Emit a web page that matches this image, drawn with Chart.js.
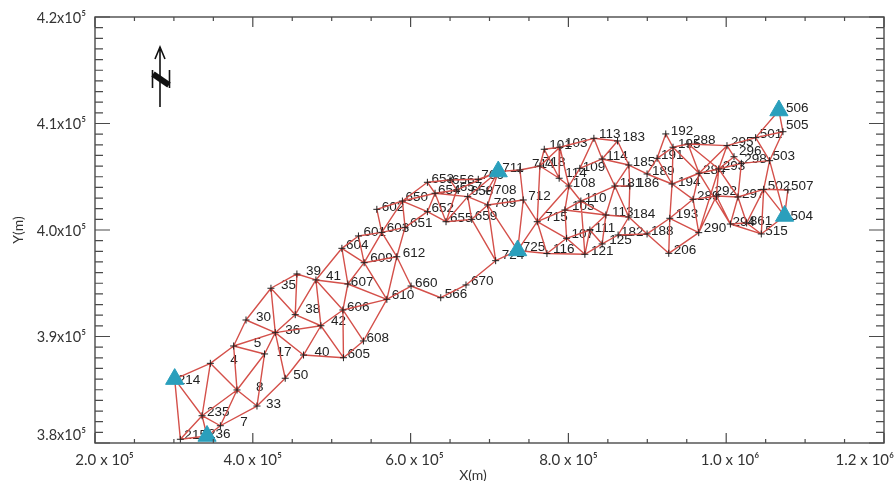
<!DOCTYPE html>
<html lang="en">
<head>
    <meta charset="UTF-8">
    <title>Mesh network</title>
    <style>
        body { margin: 0; background: #fff; }
        canvas { display: block; }
    </style>
</head>
<body>
    <canvas id="myChart" width="896" height="481"></canvas>

    <script src="https://cdn.jsdelivr.net/npm/chart.js"></script>

    <script>
    const xTickValues = [200000, 400000, 600000, 800000, 1000000, 1200000];
    const xTickLabels = ['     2.0 x 10⁵', '4.0 x 10⁵', '  6.0 x 10⁵', '8.0 x 10⁵', '  1.0 x 10⁶', '1.2 x 10⁶          '];
    const yTickValues = [380000, 390000, 400000, 410000, 420000];
    const yTickLabels = [['3.8x10⁵', ''], '3.9x10⁵', '4.0x10⁵', '4.1x10⁵', '4.2x10⁵'];

    // node numbers and coordinates in metres
    const nodeIds = [214, 215, 236, 235, 7, 33, 8, 4, 5, 17, 50, 36, 30, 35, 38, 39, 41, 42, 40, 605,
        608, 606, 607, 610, 604, 609, 612, 660, 566, 670, 724, 725, 602, 601, 603, 651, 650, 652, 653, 654,
        656, 655, 659, 658, 657, 766, 709, 708, 711, 714, 712, 715, 116, 718, 101, 103, 104, 108, 109, 113,
        183, 114, 185, 181, 186, 110, 105, 107, 111, 112, 184, 182, 125, 121, 188, 206, 193, 194, 189, 191,
        192, 195, 288, 295, 501, 505, 506, 503, 507, 502, 504, 515, 861, 294, 297, 292, 289, 290, 284, 293,
        296, 298];
    const nodeX = [301000, 308200, 342000, 335700, 358900, 405300, 380000, 346200, 375700, 414900, 441100, 428500, 391400, 423000, 453800, 455900, 480000, 486300, 464300, 514900,
        540200, 514200, 520500, 569900, 512900, 541100, 582500, 600600, 638200, 670200, 707800, 735700, 557200, 533900, 563500, 593000, 589600, 621300, 621300, 631000,
        650000, 644900, 677500, 672400, 658500, 685800, 697700, 696800, 711100, 738600, 742800, 760500, 772800, 763900, 769400, 789200, 788300, 800600, 814500, 832300,
        862300, 842800, 876600, 858800, 877800, 815800, 795600, 797700, 827200, 847500, 876600, 863000, 842800, 820900, 899700, 927200, 928500, 931400, 899700, 912400,
        923400, 932600, 951600, 1001000, 1037300, 1071900, 1066800, 1055000, 1078200, 1047500, 1074000, 1044500, 1025900, 1005300, 1014900, 987600, 958000, 965200, 965600, 990500,
        1009900, 1019200];
    const nodeY = [386000, 380350, 380660, 382560, 381620, 383470, 384980, 387480, 389110, 388360, 386080, 390360, 391550, 394530, 392050, 395870, 395310, 391010, 388260, 388010,
        389580, 392490, 394930, 393490, 398280, 396930, 397490, 394740, 393640, 394840, 397120, 398080, 401940, 399440, 399780, 400250, 402720, 401720, 404480, 403450,
        404700, 400780, 401000, 403130, 403760, 404760, 402350, 403660, 405490, 405630, 402820, 400780, 397790, 406010, 407580, 407770, 404860, 404130, 405790, 408610,
        408360, 406670, 406100, 404130, 404130, 402720, 401880, 399220, 400000, 401410, 401220, 399530, 398690, 397720, 399630, 397810, 401100, 404320, 405260, 406730,
        409020, 407770, 408080, 407920, 408670, 409230, 411220, 406510, 403760, 403820, 401320, 399630, 400660, 400560, 403100, 403190, 402880, 399750, 405330, 405730,
        406880, 406260];

    // control points, drawn as triangles
    const stations = [214, 236, 725, 711, 506, 504];

    const edges = [
        [214, 215], [214, 235], [214, 4], [215, 236], [215, 235], [235, 236], [235, 4], [235, 8], [235, 7], [236, 7],
        [7, 8], [7, 33], [4, 5], [4, 8], [5, 8], [5, 17], [5, 36], [5, 30], [8, 17], [8, 33],
        [17, 33], [17, 36], [33, 50], [50, 40], [50, 36], [36, 40], [36, 30], [36, 35], [36, 38], [36, 42],
        [30, 35], [35, 39], [35, 38], [38, 39], [38, 41], [38, 42], [39, 41], [41, 42], [41, 607], [41, 606],
        [42, 606], [42, 605], [42, 40], [40, 605], [606, 605], [606, 608], [605, 608], [608, 610], [606, 610], [606, 607],
        [607, 610], [607, 604], [607, 609], [41, 604], [604, 609], [604, 601], [601, 603], [601, 609], [609, 612], [609, 610],
        [612, 610], [603, 602], [603, 609], [603, 612], [612, 660], [651, 650], [651, 612], [650, 602], [650, 603], [651, 603],
        [650, 652], [652, 651], [650, 653], [650, 654], [653, 654], [654, 652], [652, 655], [654, 655], [653, 656], [654, 657],
        [657, 655], [658, 655], [658, 659], [658, 709], [659, 709], [659, 655], [659, 724], [709, 724], [709, 725], [708, 711],
        [658, 711], [657, 711], [656, 766], [766, 711], [654, 658], [656, 657], [709, 712], [709, 711], [712, 714], [712, 725],
        [712, 715], [711, 714], [714, 718], [724, 725], [724, 670], [670, 566], [566, 660], [660, 610], [725, 715], [725, 116],
        [715, 116], [715, 107], [715, 105], [715, 718], [718, 101], [718, 103], [718, 104], [101, 103], [103, 104], [103, 113],
        [103, 108], [101, 104], [104, 108], [108, 109], [109, 113], [109, 114], [114, 113], [113, 183], [183, 114], [183, 185],
        [114, 185], [114, 181], [185, 181], [185, 186], [186, 184], [181, 186], [181, 184], [181, 112], [181, 110], [110, 108],
        [110, 105], [108, 105], [108, 715], [105, 107], [105, 112], [110, 112], [112, 111], [112, 184], [112, 125], [184, 182],
        [184, 188], [182, 188], [182, 125], [111, 125], [111, 107], [111, 121], [110, 121], [107, 121], [107, 116], [116, 121],
        [121, 125], [185, 189], [189, 194], [189, 191], [191, 192], [191, 195], [191, 194], [192, 195], [195, 194], [195, 288],
        [288, 295], [288, 284], [288, 293], [195, 284], [194, 284], [194, 289], [194, 193], [193, 289], [193, 188], [193, 206],
        [193, 290], [188, 206], [206, 290], [289, 290], [289, 284], [289, 292], [284, 293], [292, 293], [293, 295], [284, 295],
        [295, 296], [295, 501], [293, 298], [296, 298], [296, 293], [298, 503], [501, 506], [501, 505], [501, 503], [505, 503],
        [505, 506], [503, 502], [503, 504], [502, 507], [507, 504], [502, 504], [502, 515], [502, 297], [502, 861], [298, 297],
        [297, 293], [297, 292], [297, 294], [297, 861], [292, 294], [292, 290], [294, 861], [861, 515], [294, 515], [515, 504],
        [284, 294], [290, 293]
    ];

    // a couple of numbers are printed differently from the node they sit on
    const shownLabels = { 104: '114', 112: '113' };

    // label placement, x and y shift from the node in pixels. default is 4, -3
    const labelShift = {
        214: [3, 1], 215: [4, -4], 236: [1, -2], 235: [5, -3], 4: [20, -3], 5: [20, -3], 7: [20, -3], 8: [19, -3],
        33: [9, -2], 50: [8, -3], 30: [10, -3], 35: [10, -3], 38: [10, -5], 39: [9, -3], 41: [10, -4], 42: [10, -4],
        40: [11, -3], 36: [10, -2], 17: [12, -2], 192: [5, -3], 195: [5, -3], 288: [5, -4], 505: [3, -6], 506: [7, -2],
        503: [3, -4], 507: [3, -4], 504: [6, 0], 861: [3, -2], 294: [2, -2], 292: [-2, -5], 290: [5, -4], 296: [5, -5],
        298: [3, -4], 194: [6, -2], 193: [6, -4], 206: [5, -3], 189: [5, -3], 186: [7, -3], 181: [5, -3], 182: [3, -3],
        125: [7, -4], 121: [6, -3], 116: [6, -4], 111: [5, -2], 112: [6, -3], 107: [5, -4], 105: [7, -4], 109: [3, -1],
        104: [6, -5], 113: [5, -4], 183: [5, -4], 103: [5, -4], 101: [5, -4], 718: [3, -4], 714: [12, -6], 712: [5, -4],
        715: [8, -4], 725: [5, -3], 724: [6, -5], 709: [6, -2], 708: [7, -1], 659: [3, -3], 658: [3, -5], 657: [3, -3],
        654: [3, -3], 656: [2, 0], 766: [3, -4], 650: [3, -4], 651: [5, -4], 612: [6, -3], 602: [5, -2], 603: [5, -4],
        601: [5, -4], 609: [6, -4], 607: [3, -2], 610: [5, -4], 670: [5, -4], 608: [3, -3]
    };

    function nodePoint(id) {
        const i = nodeIds.indexOf(id);
        return { x: nodeX[i], y: nodeY[i] };
    }

    // one line dataset, broken between edges with empty points
    const meshPoints = [];
    edges.forEach(e => {
        meshPoints.push(nodePoint(e[0]), nodePoint(e[1]), { x: null, y: null });
    });

    const crossPoints = nodeIds.filter(id => !stations.includes(id)).map(nodePoint);
    const stationPoints = stations.map(nodePoint);

    const meshPlugin = {
        id: 'meshPlugin',
        beforeDatasetsDraw(chart) {
            const c = chart.ctx;
            const sx = chart.scales.x;
            const sy = chart.scales.y;
            c.save();
            c.fillStyle = '#222';
            c.font = '13.5px "Liberation Sans"';
            c.textAlign = 'left';
            c.textBaseline = 'middle';
            nodeIds.forEach((id, i) => {
                const shift = labelShift[id] || [4, -3];
                c.fillText(shownLabels[id] || String(id), sx.getPixelForValue(nodeX[i]) + shift[0], sy.getPixelForValue(nodeY[i]) + shift[1]);
            });
            c.restore();
        },
        afterDraw(chart) {
            const c = chart.ctx;
            const a = chart.chartArea;
            const sx = chart.scales.x;
            const sy = chart.scales.y;
            c.save();

            // frame and inward ticks
            c.strokeStyle = '#4a4a4a';
            c.lineWidth = 1.4;
            c.strokeRect(a.left, a.top, a.right - a.left, a.bottom - a.top);
            c.lineWidth = 1.2;
            c.beginPath();
            sx.ticks.forEach(t => {
                const px = sx.getPixelForValue(t.value);
                const len = xTickValues.includes(t.value) ? 10 : 4;
                c.moveTo(px, a.bottom);
                c.lineTo(px, a.bottom - len);
                c.moveTo(px, a.top);
                c.lineTo(px, a.top + len);
            });
            sy.ticks.forEach(t => {
                const py = sy.getPixelForValue(t.value);
                const len = yTickValues.includes(t.value) ? 15 : 8;
                c.moveTo(a.left, py);
                c.lineTo(a.left + len, py);
                c.moveTo(a.right, py);
                c.lineTo(a.right - len, py);
            });
            c.stroke();

            // axis names
            c.fillStyle = '#333';
            c.font = '14px Lato';
            c.textAlign = 'center';
            c.textBaseline = 'middle';
            c.fillText('X(m)', 473, 475);
            c.translate(18, 230);
            c.rotate(-Math.PI / 2);
            c.fillText('Y(m)', 0, 0);
            c.setTransform(1, 0, 0, 1, 0, 0);

            // north arrow
            c.strokeStyle = '#111';
            c.lineWidth = 1.6;
            c.beginPath();
            c.moveTo(160, 107);
            c.lineTo(160, 47);
            c.moveTo(155, 59);
            c.lineTo(160, 47);
            c.lineTo(165, 59);
            c.moveTo(152.5, 70);
            c.lineTo(152.5, 88);
            c.moveTo(169.5, 70);
            c.lineTo(169.5, 88);
            c.stroke();
            c.lineWidth = 6;
            c.beginPath();
            c.moveTo(153, 74);
            c.lineTo(169, 85);
            c.stroke();

            c.restore();
        }
    };

    new Chart(document.getElementById('myChart'), {
        type: 'scatter',
        data: {
            datasets: [
                {
                    label: 'Stations',
                    data: stationPoints,
                    pointStyle: 'triangle',
                    pointRadius: 10.5,
                    backgroundColor: '#2a9fbc',
                    borderColor: '#2a9fbc',
                    borderWidth: 1
                },
                {
                    label: 'Nodes',
                    data: crossPoints,
                    pointStyle: 'cross',
                    pointRadius: 3.5,
                    borderColor: '#222',
                    borderWidth: 1
                },
                {
                    label: 'Mesh',
                    data: meshPoints,
                    showLine: true,
                    spanGaps: false,
                    pointRadius: 0,
                    borderColor: '#d4504a',
                    borderWidth: 1.4
                }
            ]
        },
        options: {
            responsive: false,
            animation: false,
            layout: { padding: { top: 17, right: 12, left: 0, bottom: 0 } },
            plugins: { legend: { display: false }, tooltip: { enabled: false } },
            scales: {
                x: {
                    type: 'linear',
                    min: 200000,
                    max: 1200000,
                    grid: { display: false },
                    border: { display: false },
                    ticks: {
                        stepSize: 50000,
                        autoSkip: false,
                        maxRotation: 0,
                        padding: 0,
                        color: '#333',
                        font: { family: 'Lato', size: 15 },
                        callback: value => {
                            const i = xTickValues.indexOf(value);
                            return i >= 0 ? xTickLabels[i] : '';
                        }
                    },
                    afterFit: s => { s.height = 38; s.paddingLeft = 0; s.paddingRight = 0; }
                },
                y: {
                    type: 'linear',
                    min: 380000,
                    max: 420000,
                    grid: { display: false },
                    border: { display: false },
                    ticks: {
                        stepSize: 1000,
                        autoSkip: false,
                        padding: 1,
                        labelOffset: 1,
                        color: '#333',
                        font: { family: 'Lato', size: 14.5 },
                        callback: value => {
                            const i = yTickValues.indexOf(value);
                            return i >= 0 ? yTickLabels[i] : '';
                        }
                    },
                    afterFit: s => { s.width = 95; s.paddingTop = 0; s.paddingBottom = 0; }
                }
            }
        },
        plugins: [meshPlugin]
    });
    </script>
</body>
</html>
